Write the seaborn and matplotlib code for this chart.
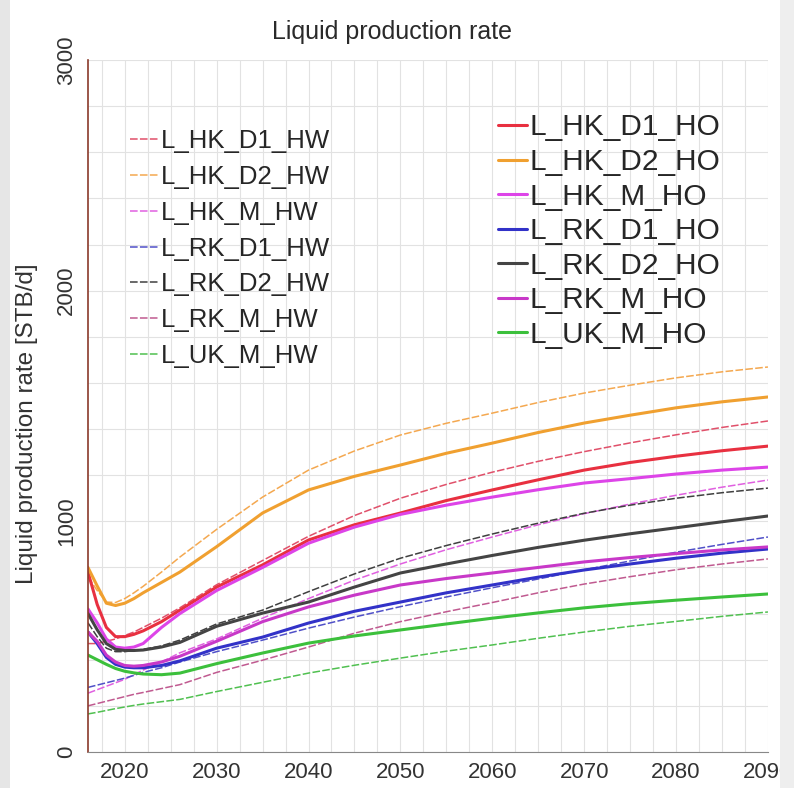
import matplotlib
matplotlib.use("Agg")
import matplotlib.pyplot as plt
from matplotlib.patches import Rectangle
from matplotlib.ticker import MultipleLocator
import seaborn as sns
import pandas as pd

years = [2016, 2017, 2018, 2019, 2020, 2021, 2022, 2024, 2026, 2030, 2035,
         2040, 2045, 2050, 2055, 2060, 2065, 2070, 2075, 2080, 2085, 2090]

# HW cases (thin dashed)
L_HK_D1_HW = [470, 470, 480, 490, 505, 520, 540, 580, 625, 725, 830,
              935, 1025, 1100, 1160, 1213, 1260, 1302, 1340, 1375, 1407, 1435]
L_HK_D2_HW = [760, 700, 650, 648, 665, 690, 718, 780, 845, 965, 1105,
              1222, 1305, 1374, 1425, 1469, 1515, 1556, 1590, 1622, 1648, 1669]
L_HK_M_HW = [255, 270, 285, 300, 315, 335, 355, 390, 430, 490, 580,
             665, 745, 815, 877, 932, 985, 1033, 1075, 1113, 1148, 1179]
L_RK_D1_HW = [280, 290, 300, 310, 320, 332, 345, 365, 390, 435, 485,
              537, 585, 630, 672, 712, 750, 790, 828, 866, 900, 932]
L_RK_D2_HW = [560, 500, 450, 435, 435, 440, 445, 460, 485, 555, 615,
              695, 772, 840, 895, 945, 992, 1035, 1070, 1100, 1124, 1144]
L_RK_M_HW = [200, 210, 220, 230, 240, 250, 258, 275, 292, 345, 398,
             455, 515, 565, 608, 648, 690, 728, 760, 790, 815, 837]
L_UK_M_HW = [165, 172, 180, 188, 195, 202, 208, 218, 228, 262, 302,
             342, 376, 407, 437, 464, 493, 520, 545, 566, 588, 607]

# HO cases (solid)
L_HK_D1_HO = [780, 640, 540, 500, 500, 510, 525, 565, 615, 715, 811,
              919, 985, 1036, 1090, 1136, 1180, 1222, 1255, 1282, 1306, 1326]
L_HK_D2_HO = [800, 720, 645, 635, 645, 665, 690, 735, 780, 890, 1036,
              1136, 1195, 1244, 1295, 1339, 1385, 1426, 1460, 1492, 1518, 1539]
L_HK_M_HO = [620, 560, 490, 455, 450, 455, 470, 540, 600, 700, 800,
             905, 975, 1030, 1070, 1105, 1137, 1166, 1185, 1205, 1222, 1235]
L_RK_D1_HO = [520, 470, 410, 380, 368, 365, 365, 375, 395, 450, 498,
              559, 610, 650, 690, 724, 758, 789, 815, 840, 862, 880]
L_RK_D2_HO = [600, 530, 470, 445, 440, 440, 442, 455, 475, 545, 602,
              650, 715, 776, 815, 852, 887, 918, 946, 972, 998, 1023]
L_RK_M_HO = [520, 480, 420, 390, 375, 372, 375, 390, 415, 480, 565,
             629, 680, 724, 752, 776, 800, 824, 843, 860, 876, 889]
L_UK_M_HO = [420, 400, 380, 362, 350, 343, 338, 335, 342, 383, 429,
             472, 503, 529, 555, 580, 603, 625, 643, 658, 672, 685]

hw_names = ["L_HK_D1_HW", "L_HK_D2_HW", "L_HK_M_HW", "L_RK_D1_HW",
            "L_RK_D2_HW", "L_RK_M_HW", "L_UK_M_HW"]
hw_values = [L_HK_D1_HW, L_HK_D2_HW, L_HK_M_HW, L_RK_D1_HW,
             L_RK_D2_HW, L_RK_M_HW, L_UK_M_HW]
hw_colors = ["#e0506a", "#f4a850", "#e060e0", "#5050c8",
             "#404040", "#c05a90", "#50c050"]

ho_names = ["L_HK_D1_HO", "L_HK_D2_HO", "L_HK_M_HO", "L_RK_D1_HO",
            "L_RK_D2_HO", "L_RK_M_HO", "L_UK_M_HO"]
ho_values = [L_HK_D1_HO, L_HK_D2_HO, L_HK_M_HO, L_RK_D1_HO,
             L_RK_D2_HO, L_RK_M_HO, L_UK_M_HO]
ho_colors = ["#e83040", "#f0a030", "#dd44e8", "#3232c8",
             "#444444", "#c838c8", "#3cc03c"]

sns.set_style("white")
plt.rcParams["font.family"] = ["Liberation Sans", "DejaVu Sans"]

fig = plt.figure(figsize=(7.94, 7.88), dpi=100)
fig.patches.append(Rectangle((0, 0), 0.012, 1, transform=fig.transFigure,
                             facecolor="#e6e6e6", edgecolor="none", zorder=0))
fig.patches.append(Rectangle((0.982, 0), 0.018, 1, transform=fig.transFigure,
                             facecolor="#eeeeee", edgecolor="none", zorder=0))
ax = fig.add_axes([0.1108, 0.0457, 0.8564, 0.8782])

hw_handles = []
for name, vals, col in zip(hw_names, hw_values, hw_colors):
    df = pd.DataFrame({"year": years, "rate": vals})
    sns.lineplot(data=df, x="year", y="rate", ax=ax, color=col, lw=1.1,
                 linestyle=(0, (5, 1.5)), label=name, legend=False)
    hw_handles.append(ax.lines[-1])

ho_handles = []
for name, vals, col in zip(ho_names, ho_values, ho_colors):
    df = pd.DataFrame({"year": years, "rate": vals})
    sns.lineplot(data=df, x="year", y="rate", ax=ax, color=col, lw=2.2,
                 label=name, legend=False)
    ho_handles.append(ax.lines[-1])

ax.set_xlim(2016, 2090)
ax.set_ylim(0, 3000)
ax.xaxis.set_major_locator(MultipleLocator(10))
ax.xaxis.set_minor_locator(MultipleLocator(2.5))
ax.yaxis.set_major_locator(MultipleLocator(1000))
ax.yaxis.set_minor_locator(MultipleLocator(200))
ax.grid(which="both", color="#e2e2e2", lw=0.8)
ax.set_axisbelow(True)

for side in ("top", "right"):
    ax.spines[side].set_visible(False)
ax.spines["left"].set_color("#8a3a2a")
ax.spines["left"].set_linewidth(1.2)
ax.spines["bottom"].set_color("#888888")
ax.tick_params(axis="both", which="both", direction="out", colors="#777777",
               labelcolor="#333333", labelsize=16)
ax.tick_params(axis="both", which="major", length=4)
ax.tick_params(axis="both", which="minor", length=2.5)
ax.tick_params(axis="y", which="major", pad=4)
plt.setp(ax.get_yticklabels(), rotation=90, va="center")

ax.set_xlabel("")
ax.set_ylabel("Liquid production rate [STB/d]", fontsize=17.5, color="#333333")
ax.yaxis.set_label_coords(-0.074, 0.474)
ax.set_title("Liquid production rate", fontsize=18, color="#2a2a2a", pad=15,
             x=0.447)

leg1 = ax.legend(hw_handles, hw_names, loc="upper left",
                 bbox_to_anchor=(0.047, 0.915), frameon=False, fontsize=18.5,
                 handlelength=1.1, handletextpad=0.1, labelspacing=0.46,
                 borderaxespad=0)
ax.add_artist(leg1)
ax.legend(ho_handles, ho_names, loc="upper left",
          bbox_to_anchor=(0.586, 0.94), frameon=False, fontsize=21.5,
          handlelength=0.95, handletextpad=0.08, labelspacing=0.22,
          borderaxespad=0)

fig.savefig("out.png", dpi=100)
